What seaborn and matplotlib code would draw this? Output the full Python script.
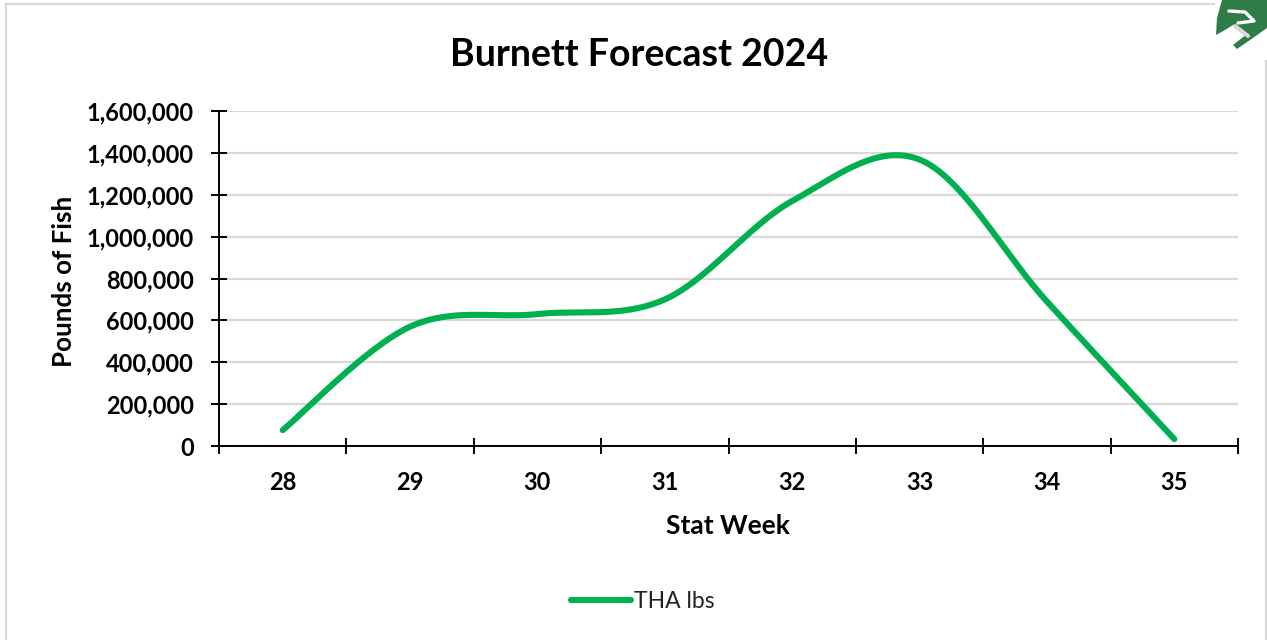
import numpy as np
import pandas as pd
import matplotlib
matplotlib.use("Agg")
import matplotlib.pyplot as plt
import seaborn as sns
from matplotlib.lines import Line2D
from matplotlib.patches import Polygon, Rectangle
from matplotlib.ticker import FuncFormatter

# Chart values
stat_weeks = [28, 29, 30, 31, 32, 33, 34, 35]
tha_lbs = [76000, 570000, 630000, 700000, 1170000, 1368000, 690000, 33000]
y_ticks = [0, 200000, 400000, 600000, 800000, 1000000, 1200000, 1400000, 1600000]

GREEN = "#00B050"
GRID = "#D9D9D9"
W, H = 1267, 640

sns.set_theme(style="white")
plt.rcParams["font.family"] = ["Lato", "DejaVu Sans"]


# Excel style smoothed line, goes through every data point
def smooth_line(xs, ys, steps=40):
    xs = np.array(xs, dtype=float)
    ys = np.array(ys, dtype=float)
    px = np.concatenate([[xs[0]], xs, [xs[-1]]])
    py = np.concatenate([[ys[0]], ys, [ys[-1]]])
    t = np.linspace(0, 1, steps)[:, None]
    out = []
    for i in range(1, len(xs)):
        p0 = np.array([px[i], py[i]])
        p3 = np.array([px[i + 1], py[i + 1]])
        p1 = p0 + (np.array([px[i + 1], py[i + 1]]) - np.array([px[i - 1], py[i - 1]])) / 6
        p2 = p3 - (np.array([px[i + 2], py[i + 2]]) - np.array([px[i], py[i]])) / 6
        out.append((1 - t) ** 3 * p0 + 3 * (1 - t) ** 2 * t * p1 + 3 * (1 - t) * t ** 2 * p2 + t ** 3 * p3)
    return np.vstack(out)


# pixel position to figure fraction
def fig_xy(x, y):
    return x / W, 1 - y / H


curve = smooth_line(stat_weeks, tha_lbs)
df = pd.DataFrame({"week": curve[:, 0], "lbs": curve[:, 1]})

fig = plt.figure(figsize=(W / 100, H / 100), dpi=100, facecolor="white")
ax = fig.add_axes([219 / W, 1 - 446 / H, (1238 - 219) / W, (446 - 111) / H])

sns.lineplot(data=df, x="week", y="lbs", color=GREEN, linewidth=4.4, ax=ax, sort=False,
             errorbar=None, estimator=None, solid_capstyle="round")

ax.set_xlim(27.5, 35.5)
ax.set_ylim(0, 1600000)
ax.set_yticks(y_ticks)
ax.yaxis.set_major_formatter(FuncFormatter(lambda v, p: f"{int(v):,}"))
ax.set_xticks(np.arange(27.5, 36, 1))
ax.set_xticklabels([])
ax.set_xticks(stat_weeks, minor=True)
ax.set_xticklabels([str(w) for w in stat_weeks], minor=True, fontsize=17, fontweight="bold", color="black")
ax.tick_params(axis="x", which="major", direction="inout", length=11, width=1.4, color="black", bottom=True)
ax.tick_params(axis="x", which="minor", length=0, pad=18)
ax.tick_params(axis="y", direction="inout", length=12, width=1.4, color="black", left=True, pad=12)
for lab in ax.get_yticklabels():
    lab.set_fontsize(17)
    lab.set_fontweight("bold")
    lab.set_color("black")

ax.grid(axis="y", color=GRID, linewidth=1.6)
ax.set_axisbelow(True)
for s in ["top", "right"]:
    ax.spines[s].set_visible(False)
for s in ["left", "bottom"]:
    ax.spines[s].set_color("black")
    ax.spines[s].set_linewidth(1.4)

ax.set_xlabel("")
ax.set_ylabel("")
fig.text(*fig_xy(728, 526), "Stat Week", ha="center", va="center", fontsize=19, fontweight="bold", color="black")
fig.text(*fig_xy(64, 281), "Pounds of Fish", ha="center", va="center", rotation=90, fontsize=18.7,
         fontweight="bold", color="black")
fig.text(*fig_xy(639, 55), "Burnett Forecast 2024", ha="center", va="center", fontsize=27,
         fontweight="bold", color="black")

# legend by hand, same spot as the original
fig.add_artist(Line2D([571 / W, 631 / W], [1 - 600 / H, 1 - 600 / H], color=GREEN, linewidth=4.4,
                      solid_capstyle="round"))
fig.text(*fig_xy(634, 601), "THA lbs", ha="left", va="center", fontsize=16.5, color="#222222")

# outer chart border and the corner logo
fig.add_artist(Rectangle((6 / W, -0.02), (1266 - 6) / W, 1 - 4 / H + 0.02, transform=fig.transFigure,
                         fill=False, edgecolor=GRID, linewidth=1.6))
fig.add_artist(Rectangle((1215 / W, 1 - 60 / H), 52 / W, 60 / H, transform=fig.transFigure,
                         facecolor="white", edgecolor="none"))
logo = [(1222, 0), (1267, 0), (1267, 28), (1250, 40), (1237, 49), (1233, 45), (1247, 34), (1233, 25),
        (1225, 30), (1216, 35), (1217, 18)]
fig.add_artist(Polygon([fig_xy(x, y) for x, y in logo], closed=True, transform=fig.transFigure,
                       facecolor="#2F7D46", edgecolor="none"))
hook = [fig_xy(x, y) for x, y in [(1229, 11), (1245, 12), (1254, 21), (1238, 23)]]
fig.add_artist(Line2D([p[0] for p in hook], [p[1] for p in hook], color="white", linewidth=2.4))
slash = [fig_xy(x, y) for x, y in [(1235, 26), (1248, 36)]]
fig.add_artist(Line2D([p[0] for p in slash], [p[1] for p in slash], color="#D8D8D8", linewidth=3))

fig.savefig("out.png", dpi=100, facecolor="white")
